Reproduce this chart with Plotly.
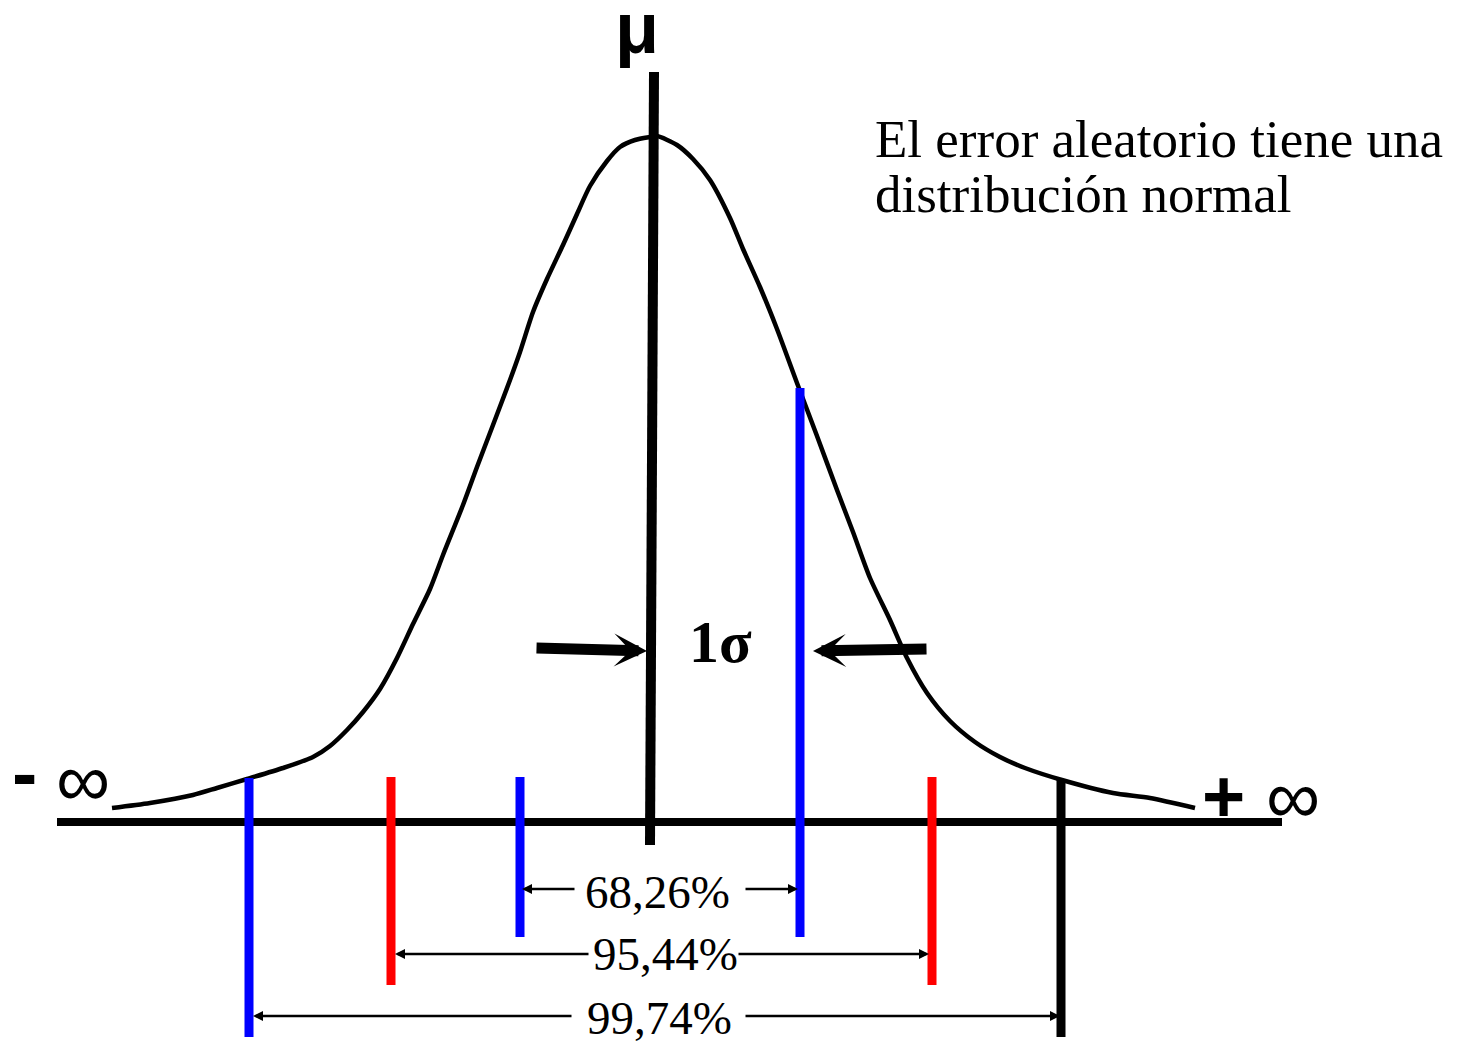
import plotly.graph_objects as go

# ---------------- data (diagram units) ----------------
curve_x = [112, 150, 193, 217, 247, 283, 313, 330, 347, 363, 380, 397, 413, 430, 443,
           463, 477, 493, 510, 520, 533, 547, 563, 577, 590, 607, 620, 635, 650, 657,
           677, 693, 710, 730, 743, 760, 777, 797, 817, 837, 853, 870, 890, 907, 927,
           950, 975, 1000, 1025, 1062, 1113, 1150, 1195]
curve_y = [808, 803, 795, 788, 779, 768, 757, 746, 730, 712, 689, 658, 624, 589, 555,
           505, 467, 425, 380, 352, 312, 279, 245, 214, 186, 161, 147, 140, 137, 136,
           145, 159, 180, 218, 249, 287, 329, 383, 436, 490, 532, 578, 620, 658, 693,
           721, 742, 757, 768, 780, 793, 798, 808]

axis_x = [57, 1282]
axis_y = [822, 822]

mean_x = [654, 650]
mean_y = [72, 845]

marker_x = [249, 391, 520, 800, 932, 1061]
marker_top = [778, 777, 777, 388, 777, 779]
marker_bottom = [1037, 985, 937, 937, 985, 1037]

interval_labels = ["68,26%", "95,44%", "99,74%"]
interval_left = [522, 395, 253]
interval_right = [798, 929, 1060]
interval_y = [889, 954, 1016]
label_gap_left = [576, 590, 573]
label_gap_right = [744, 737, 744]
label_x = [657, 665, 659]
label_y = [892, 954, 1018]

sigma_left_tail = (535, 648)
sigma_left_tip = (647, 651)
sigma_right_tail = (928, 649)
sigma_right_tip = (813, 651)

title_lines = ["El error aleatorio tiene una", "distribución normal"]

# ---------------- styles ----------------
marker_colors = ["#0000ff", "#ff0000", "#0000ff", "#0000ff", "#ff0000", "#000000"]
SERIF = "Liberation Serif"
SANS = "Liberation Sans"

fig = go.Figure()

# bell curve
fig.add_trace(go.Scatter(x=curve_x, y=curve_y, mode="lines",
                         line=dict(color="black", width=4.5, shape="spline", smoothing=0.7),
                         hoverinfo="skip"))
# horizontal axis
fig.add_trace(go.Scatter(x=axis_x, y=axis_y, mode="lines",
                         line=dict(color="black", width=8), hoverinfo="skip"))
# vertical markers
for xv, t, b, c in zip(marker_x, marker_top, marker_bottom, marker_colors):
    fig.add_trace(go.Scatter(x=[xv, xv], y=[t, b], mode="lines",
                             line=dict(color=c, width=9), hoverinfo="skip"))
# mean line
fig.add_trace(go.Scatter(x=mean_x, y=mean_y, mode="lines",
                         line=dict(color="black", width=10), hoverinfo="skip"))

ann = []

def arrow(tip, tail, width, head, size):
    ann.append(dict(x=tip[0], y=tip[1], ax=tail[0], ay=tail[1], xref="x", yref="y",
                    axref="x", ayref="y", text="", showarrow=True, arrowhead=head,
                    arrowsize=size, arrowwidth=width, arrowcolor="black", standoff=0,
                    font=dict(size=1)))

# interval arrows + labels
for lab, l, r, yv, gl, gr, lx, ly in zip(interval_labels, interval_left, interval_right,
                                         interval_y, label_gap_left, label_gap_right,
                                         label_x, label_y):
    arrow((l, yv), (gl, yv), 2.5, 2, 0.8)
    arrow((r, yv), (gr, yv), 2.5, 2, 0.8)
    ann.append(dict(x=lx, y=ly, xref="x", yref="y", text=lab, showarrow=False,
                    xanchor="center", yanchor="middle",
                    font=dict(family=SERIF, size=47, color="black")))

# 1 sigma arrows
arrow(sigma_left_tip, sigma_left_tail, 11, 3, 0.5)
arrow(sigma_right_tip, sigma_right_tail, 11, 3, 0.5)
ann.append(dict(x=720, y=642, xref="x", yref="y", text="<b>1σ</b>", showarrow=False,
                xanchor="center", yanchor="middle",
                font=dict(family=SERIF, size=60, color="black")))

# mu
ann.append(dict(x=637, y=28, xref="x", yref="y", text="<b>μ</b>", showarrow=False,
                xanchor="center", yanchor="middle",
                font=dict(family=SANS, size=72, color="black")))

# infinity labels
ann.append(dict(x=24, y=772, xref="x", yref="y", text="<b>-</b>", showarrow=False,
                xanchor="center", yanchor="middle",
                font=dict(family=SANS, size=76, color="black")))
ann.append(dict(x=83, y=779, xref="x", yref="y", text="∞", showarrow=False,
                xanchor="center", yanchor="middle",
                font=dict(family=SANS, size=76, color="black")))
ann.append(dict(x=1223, y=796, xref="x", yref="y", text="<b>+</b>", showarrow=False,
                xanchor="center", yanchor="middle",
                font=dict(family=SANS, size=74, color="black")))
ann.append(dict(x=1293, y=796, xref="x", yref="y", text="∞", showarrow=False,
                xanchor="center", yanchor="middle",
                font=dict(family=SANS, size=76, color="black")))

# title text
ann.append(dict(x=873, y=139, xref="x", yref="y", text=title_lines[0], showarrow=False,
                xanchor="left", yanchor="middle",
                font=dict(family=SERIF, size=53, color="black")))
ann.append(dict(x=873, y=194, xref="x", yref="y", text=title_lines[1], showarrow=False,
                xanchor="left", yanchor="middle",
                font=dict(family=SERIF, size=53, color="black")))

fig.update_layout(
    width=1457, height=1043,
    margin=dict(l=0, r=0, t=0, b=0),
    paper_bgcolor="white", plot_bgcolor="white",
    showlegend=False,
    annotations=ann,
    xaxis=dict(range=[0, 1457], visible=False, fixedrange=True),
    yaxis=dict(range=[1043, 0], visible=False, fixedrange=True),
)

fig.write_html("out.html",
               config={"displayModeBar": False},
               post_script="document.body.style.margin='0px';document.body.style.overflow='hidden';")
